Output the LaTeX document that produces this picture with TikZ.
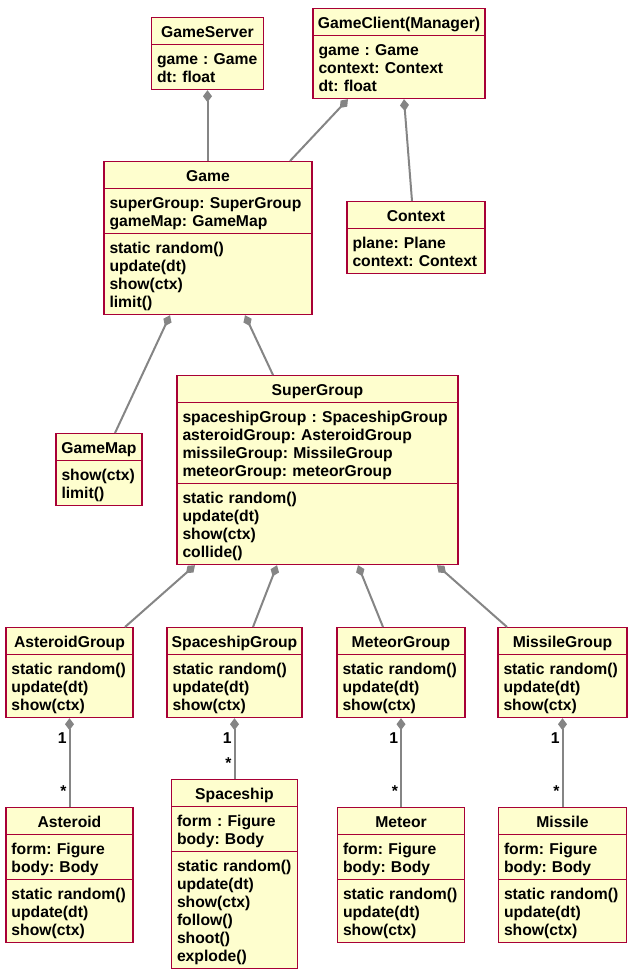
\documentclass[tikz,border=0pt]{standalone}
\usepackage{fontspec}
\setmainfont{Liberation Sans}
\usetikzlibrary{arrows.meta,positioning,shapes.multipart}

\definecolor{umlfill}{HTML}{FEFECE}
\definecolor{umlborder}{HTML}{A80036}
\definecolor{umlline}{HTML}{858585}
\newcommand{\umltop}{\rule{0pt}{15.5pt}}
\newcommand{\umlbot}{\rule[-3.5pt]{0pt}{3.5pt}}
\newcommand{\umltitle}[1]{\makebox[\linewidth]{#1}}
\frenchspacing
\hyphenpenalty=10000
\exhyphenpenalty=10000

\begin{document}
\begin{tikzpicture}[x=1pt,y=-1pt,
    cls/.style={rectangle split,rectangle split parts=#1,anchor=north,
      draw=umlborder,line width=1.2pt,fill=umlfill,
      inner xsep=5.5pt,inner ysep=3.4pt,align=left,
      font=\bfseries\fontsize{15.7}{18}\selectfont,
      execute at begin node=\umltop,execute at end node=\umlbot},
    cls/.default=3,
    comp/.style={draw=umlline,line width=2pt,
      {Diamond[length=12pt,width=9pt]}-},
    mult/.style={font=\bfseries\fontsize{15.7}{18}\selectfont,inner sep=1pt}]

  \useasboundingbox (0,0) rectangle (635,980);

  % top row
  \node[cls=2,text width=101pt] (GameServer) at (207.5,17)
    {\umltitle{GameServer}%
     \nodepart{two}game : Game\\dt: float};
  \node[cls=2,text width=161pt] (GameClient) at (399,8)
    {\umltitle{GameClient(Manager)}%
     \nodepart{two}game : Game\\context: Context\\dt: float};
  \node[cls,text width=197pt] (Game) at (208,161)
    {\umltitle{Game}%
     \nodepart{two}superGroup: SuperGroup\\gameMap: GameMap%
     \nodepart{three}static random()\\update(dt)\\show(ctx)\\limit()};
  \node[cls=2,text width=127pt] (Context) at (416,201)
    {\umltitle{Context}%
     \nodepart{two}plane: Plane\\context: Context};

  % middle
  \node[cls=2,text width=75pt] (GameMap) at (99,433)
    {\umltitle{GameMap}%
     \nodepart{two}show(ctx)\\limit()};
  \node[cls,text width=270pt] (SuperGroup) at (317.5,375)
    {\umltitle{SuperGroup}%
     \nodepart{two}spaceshipGroup : SpaceshipGroup\\asteroidGroup: AsteroidGroup\\missileGroup: MissileGroup\\meteorGroup: meteorGroup%
     \nodepart{three}static random()\\update(dt)\\show(ctx)\\collide()};

  % groups
  \node[cls=2,text width=116pt] (AsteroidGroup) at (69.5,627)
    {\umltitle{AsteroidGroup}%
     \nodepart{two}static random()\\update(dt)\\show(ctx)};
  \node[cls=2,text width=124pt] (SpaceshipGroup) at (234.5,627)
    {\umltitle{SpaceshipGroup}%
     \nodepart{two}static random()\\update(dt)\\show(ctx)};
  \node[cls=2,text width=117pt] (MeteorGroup) at (401,627)
    {\umltitle{MeteorGroup}%
     \nodepart{two}static random()\\update(dt)\\show(ctx)};
  \node[cls=2,text width=118pt] (MissileGroup) at (562.5,627)
    {\umltitle{MissileGroup}%
     \nodepart{two}static random()\\update(dt)\\show(ctx)};

  % elements
  \node[cls,text width=116pt] (Asteroid) at (69.5,807)
    {\umltitle{Asteroid}%
     \nodepart{two}form: Figure\\body: Body%
     \nodepart{three}static random()\\update(dt)\\show(ctx)};
  \node[cls,text width=115pt] (Spaceship) at (234.5,779)
    {\umltitle{Spaceship}%
     \nodepart{two}form : Figure\\body: Body%
     \nodepart{three}static random()\\update(dt)\\show(ctx)\\follow()\\shoot()\\explode()};
  \node[cls,text width=116pt] (Meteor) at (401,807)
    {\umltitle{Meteor}%
     \nodepart{two}form: Figure\\body: Body%
     \nodepart{three}static random()\\update(dt)\\show(ctx)};
  \node[cls,text width=117pt] (Missile) at (562.5,807)
    {\umltitle{Missile}%
     \nodepart{two}form: Figure\\body: Body%
     \nodepart{three}static random()\\update(dt)\\show(ctx)};

  % compositions
  \draw[comp] (GameServer.south) -- (GameServer.south |- Game.north);
  \draw[comp] ([xshift=-51pt]GameClient.south) -- ([xshift=82pt]Game.north);
  \draw[comp] ([xshift=5pt]GameClient.south) -- ([xshift=-4pt]Context.north);
  \draw[comp] ([xshift=-38pt]Game.south) -- ([xshift=16pt]GameMap.north);
  \draw[comp] ([xshift=37pt]Game.south) -- ([xshift=-44.5pt]SuperGroup.north);
  \draw[comp] ([xshift=-122.5pt]SuperGroup.south) -- ([xshift=55.5pt]AsteroidGroup.north);
  \draw[comp] ([xshift=-40.5pt]SuperGroup.south) -- ([xshift=18.5pt]SpaceshipGroup.north);
  \draw[comp] ([xshift=40.5pt]SuperGroup.south) -- ([xshift=-18pt]MeteorGroup.north);
  \draw[comp] ([xshift=119.5pt]SuperGroup.south) -- ([xshift=-55.5pt]MissileGroup.north);

  \draw[comp] (AsteroidGroup.south) --
    node[mult,pos=0,below left=12pt and 1pt] {1}
    node[mult,pos=1,above left=9pt and 1pt] {*} (Asteroid.north);
  \draw[comp] (SpaceshipGroup.south) --
    node[mult,pos=0,below left=12pt and 1pt] {1}
    node[mult,pos=1,above left=9pt and 1pt] {*} (Spaceship.north);
  \draw[comp] (MeteorGroup.south) --
    node[mult,pos=0,below left=12pt and 1pt] {1}
    node[mult,pos=1,above left=9pt and 1pt] {*} (Meteor.north);
  \draw[comp] (MissileGroup.south) --
    node[mult,pos=0,below left=12pt and 1pt] {1}
    node[mult,pos=1,above left=9pt and 1pt] {*} (Missile.north);
\end{tikzpicture}
\end{document}
